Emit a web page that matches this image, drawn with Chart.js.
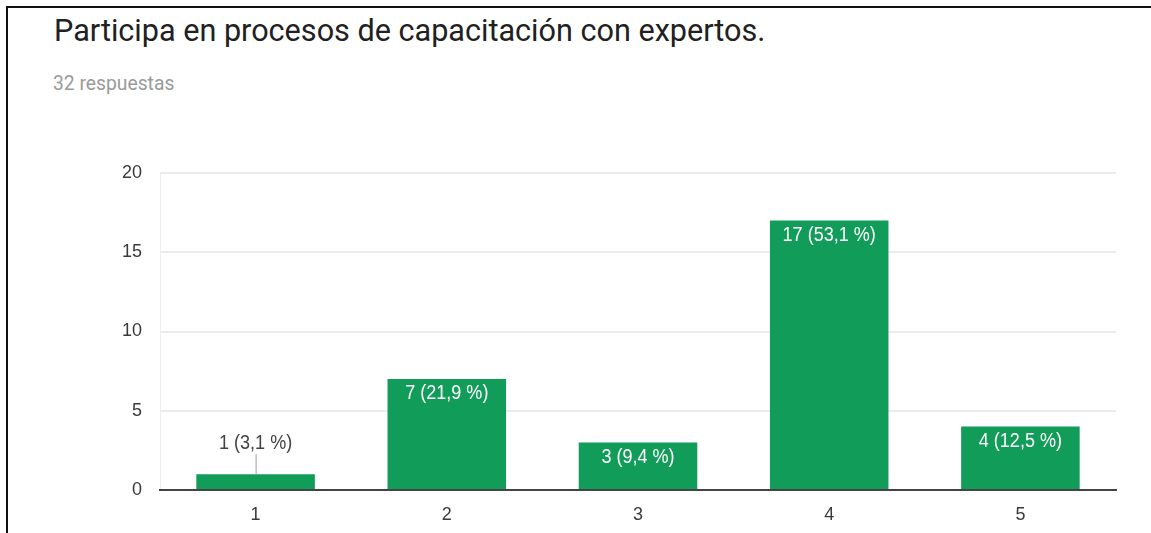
<!DOCTYPE html>
<html lang="es">
<head>
<meta charset="UTF-8" />
<title>Participa en procesos de capacitación con expertos.</title>
<script src="https://cdn.jsdelivr.net/npm/chart.js"></script>
<style>
  html, body { margin: 0; padding: 0; background: #fff; }
  body { width: 1151px; height: 533px; position: relative; overflow: hidden; }
  #frame { position: absolute; left: 6px; top: 6px; right: 0; bottom: 0;
           border-top: 2px solid #111; border-left: 2px solid #111; }
  #title { position: absolute; left: 54px; top: 13px; margin: 0;
           font: 400 30.6px Roboto, sans-serif; color: #212121; white-space: nowrap; }
  #sub { position: absolute; left: 53px; top: 72px;
         font: 400 19.3px Roboto, sans-serif; color: #9a9a9a; }
  #wrap { position: absolute; left: 0; top: 0; width: 1151px; height: 533px; }
</style>
</head>
<body>
<div id="frame"></div>
<h1 id="title">Participa en procesos de capacitación con expertos.</h1>
<div id="sub">32 respuestas</div>
<div id="wrap"><canvas id="chart" width="1151" height="533"></canvas></div>
<script>
const categories = ['1', '2', '3', '4', '5'];
const counts = [1, 7, 3, 17, 4];
const yTicks = [0, 5, 10, 15, 20];

const total = counts.reduce((a, b) => a + b, 0);
const labelFont = '"Liberation Sans", Arial, sans-serif';

function labelFor(v) {
    const pct = (v / total * 100).toFixed(1).replace('.', ',');
    return v + ' (' + pct + ' %)';
}

// draws text squeezed horizontally, like the condensed face of the original
function narrowText(ctx, text, x, y) {
    ctx.save();
    ctx.translate(x, y);
    ctx.scale(0.88, 1);
    ctx.fillText(text, 0, 0);
    ctx.restore();
}

const barLabels = {
    id: 'barLabels',
    afterDatasetsDraw(chart) {
        const ctx = chart.ctx;
        const meta = chart.getDatasetMeta(0);
        ctx.save();
        ctx.font = '20.5px ' + labelFont;
        ctx.textAlign = 'center';
        ctx.textBaseline = 'middle';
        meta.data.forEach((bar, i) => {
            const v = counts[i];
            const h = bar.base - bar.y;
            if (h > 30) {
                ctx.fillStyle = '#ffffff';
                narrowText(ctx, labelFor(v), bar.x, bar.y + 14.5);
            } else {
                ctx.strokeStyle = '#9e9e9e';
                ctx.lineWidth = 1;
                ctx.beginPath();
                ctx.moveTo(bar.x + 0.5, bar.y);
                ctx.lineTo(bar.x + 0.5, bar.y - 20);
                ctx.stroke();
                ctx.fillStyle = '#424242';
                narrowText(ctx, labelFor(v), bar.x, bar.y - 31);
            }
        });
        ctx.restore();
    }
};

new Chart(document.getElementById('chart'), {
    type: 'bar',
    data: {
        labels: categories,
        datasets: [{
            data: counts,
            backgroundColor: '#129c59',
            borderWidth: 0,
            categoryPercentage: 1,
            barPercentage: 0.62
        }]
    },
    options: {
        responsive: false,
        animation: false,
        layout: { padding: { left: 100, right: 35, top: 173, bottom: 0 } },
        plugins: { legend: { display: false }, tooltip: { enabled: false } },
        scales: {
            x: {
                grid: {
                    drawTicks: false,
                    color: c => (c.index === 0 || c.index === categories.length) ? '#eeeeee' : 'rgba(0,0,0,0)'
                },
                border: { color: '#444444', width: 2 },
                ticks: { color: '#3a3a3a', font: { family: labelFont, size: 18 }, padding: 14 },
                afterFit: s => { s.height = 43; }
            },
            y: {
                min: 0,
                max: 20,
                grid: {
                    drawTicks: false,
                    color: '#ebebeb',
                    lineWidth: 2
                },
                border: { display: false },
                afterBuildTicks: s => { s.ticks = yTicks.map(v => ({ value: v })); },
                ticks: { color: '#3a3a3a', font: { family: labelFont, size: 18 }, padding: 18 },
                afterFit: s => { s.width = 60; }
            }
        }
    },
    plugins: [barLabels]
});
</script>
</body>
</html>
